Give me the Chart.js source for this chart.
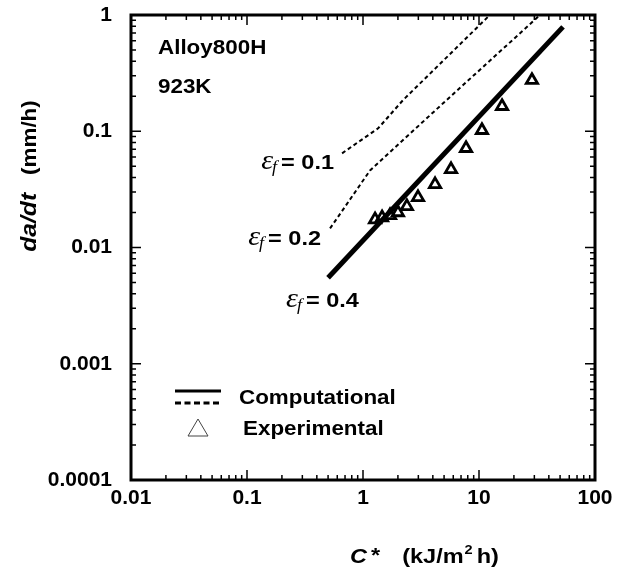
<!DOCTYPE html>
<html><head><meta charset="utf-8">
<script src="https://cdn.jsdelivr.net/npm/chart.js@4/dist/chart.umd.min.js"></script>
<style>html,body{margin:0;padding:0;background:#fff;}</style>
</head><body>
<canvas id="c" width="620" height="570"></canvas>
<script>
// ---- data ----
const xTickValues = [0.01, 0.1, 1, 10, 100];
const xTickLabels = ['0.01', '0.1', '1', '10', '100'];
const yTickValues = [0.0001, 0.001, 0.01, 0.1, 1];
const yTickLabels = ['0.0001', '0.001', '0.01', '0.1', '1'];

const eps01X = [0.66, 1.35, 2.21, 12.4];
const eps01Y = [0.0646, 0.106, 0.185, 1.0];
const eps02X = [0.52, 1.15, 4.9, 33.6];
const eps02Y = [0.0146, 0.046, 0.174, 1.0];
const eps04X = [0.50, 53];
const eps04Y = [0.0055, 0.79];
const expX = [1.27, 1.46, 1.71, 2.00, 2.39, 2.98, 4.18, 5.74, 7.73, 10.6, 15.8, 28.6];
const expY = [0.0174, 0.0181, 0.0189, 0.0200, 0.0226, 0.0270, 0.0349, 0.0470, 0.0714, 0.102, 0.164, 0.275];

const curveLabels = ['0.1', '0.2', '0.4'];
const infoLines = ['Alloy800H', '923K'];
const legendLabels = ['Computational', 'Experimental'];

const pts = (xs, ys) => xs.map((x, i) => ({x: x, y: ys[i]}));
const SANS = '"Liberation Sans", Arial, Helvetica, sans-serif';
const SERIF = '"Liberation Serif", "DejaVu Serif", serif';
const SX = 1.12; // horizontal stretch of the reference lettering

function allTicks(min, max) {
  const out = [];
  for (let e = Math.round(Math.log10(min)); e <= Math.round(Math.log10(max)); e++) {
    for (let m = 1; m <= 9; m++) {
      const v = m * Math.pow(10, e);
      if (v <= max * 1.0001) out.push(+v.toPrecision(3));
    }
  }
  return out;
}

function txt(ctx, s, x, y, font, align, base) {
  ctx.save();
  ctx.font = font;
  ctx.textAlign = align || 'left';
  ctx.textBaseline = base || 'alphabetic';
  ctx.translate(x, y);
  ctx.scale(SX, 1);
  ctx.fillText(s, 0, 0);
  ctx.restore();
}
function tw(ctx, s, font) { ctx.save(); ctx.font = font; const w = ctx.measureText(s).width * SX; ctx.restore(); return w; }

const fE = 'italic 27px ' + SERIF;
const fF = 'italic 16px ' + SERIF;
const fN = 'bold 21px ' + SANS;
function epsLabel(ctx, v, x0, ym) {
  const base = ym + 8;
  let x = x0;
  txt(ctx, '\u03B5', x, base, fE); x += tw(ctx, '\u03B5', fE) - 1;
  txt(ctx, 'f', x, base + 3, fF); x += tw(ctx, 'f', fF) + 4;
  txt(ctx, '= ' + v, x, base, fN);
}
function epsWidth(ctx, v) {
  return tw(ctx, '\u03B5', fE) - 1 + tw(ctx, 'f', fF) + 4 + tw(ctx, '= ' + v, fN);
}

const decor = {
  id: 'decor',
  afterDraw(chart) {
    const ctx = chart.ctx;
    const a = chart.chartArea;
    const xs = chart.scales.x, ys = chart.scales.y;
    ctx.save();
    ctx.fillStyle = '#000';
    ctx.strokeStyle = '#000';
    // inward ticks on all four sides
    ctx.lineWidth = 1.5;
    xs.ticks.forEach(t => {
      const px = xs.getPixelForValue(t.value);
      const major = xTickValues.includes(t.value);
      const L = major ? 10 : 5;
      ctx.beginPath();
      ctx.moveTo(px, a.bottom); ctx.lineTo(px, a.bottom - L);
      ctx.moveTo(px, a.top); ctx.lineTo(px, a.top + L);
      ctx.stroke();
    });
    ys.ticks.forEach(t => {
      const py = ys.getPixelForValue(t.value);
      const major = yTickValues.includes(t.value);
      const L = major ? 10 : 5;
      ctx.beginPath();
      ctx.moveTo(a.left, py); ctx.lineTo(a.left + L, py);
      ctx.moveTo(a.right, py); ctx.lineTo(a.right - L, py);
      ctx.stroke();
    });
    // frame
    ctx.lineWidth = 3;
    ctx.strokeRect(a.left, a.top, a.right - a.left, a.bottom - a.top);

    // info text
    const fB = 'bold 20px ' + SANS;
    txt(ctx, infoLines[0], a.left + 27, a.top + 39, fB);
    txt(ctx, infoLines[1], a.left + 27, a.top + 78, fB);

    // curve labels anchored at the start of each curve
    const starts = [[eps01X[0], eps01Y[0]], [eps02X[0], eps02Y[0]], [eps04X[0], eps04Y[0]]];
    starts.forEach((s, i) => {
      const px = xs.getPixelForValue(s[0]), py = ys.getPixelForValue(s[1]);
      const w = epsWidth(ctx, curveLabels[i]);
      if (i === 0) epsLabel(ctx, curveLabels[i], px - 8 - w, py + 8);
      else if (i === 1) epsLabel(ctx, curveLabels[i], px - 9 - w, py + 9);
      else epsLabel(ctx, curveLabels[i], px - 42, py + 21);
    });

    // legend
    const lx = a.left + 44, ly = a.top + 376;
    const fL = 'bold 20px ' + SANS;
    ctx.lineWidth = 3;
    ctx.beginPath(); ctx.moveTo(lx, ly); ctx.lineTo(lx + 46, ly); ctx.stroke();
    ctx.setLineDash([6, 3.5]);
    ctx.beginPath(); ctx.moveTo(lx, ly + 12); ctx.lineTo(lx + 46, ly + 12); ctx.stroke();
    ctx.setLineDash([]);
    txt(ctx, legendLabels[0], lx + 64, ly + 13, fL);
    // legend triangle
    ctx.lineWidth = 1;
    ctx.strokeStyle = '#444';
    const tx = lx + 23, ty = ly + 37;
    ctx.beginPath();
    ctx.moveTo(tx, ty - 9); ctx.lineTo(tx + 10, ty + 8); ctx.lineTo(tx - 10, ty + 8); ctx.closePath();
    ctx.stroke();
    ctx.strokeStyle = '#000';
    txt(ctx, legendLabels[1], lx + 68, ly + 44, fL);

    // y-axis title (rotated)
    ctx.save();
    ctx.translate(36, a.top + 161);
    ctx.rotate(-Math.PI / 2);
    const f1 = 'italic bold 22px ' + SANS, f2 = 'bold 20px ' + SANS;
    const w1 = tw(ctx, 'da/dt', f1), w2 = tw(ctx, '(mm/h)', f2), gap = 18;
    const tot = w1 + gap + w2;
    txt(ctx, 'da/dt', -tot / 2, 0, f1);
    txt(ctx, '(mm/h)', -tot / 2 + w1 + gap, 0, f2);
    ctx.restore();

    // x-axis title
    const bx = 350, by = 563;
    const fC = 'italic bold 21px ' + SANS, fT = 'bold 21px ' + SANS, fS = 'bold 13px ' + SANS;
    let x = bx;
    txt(ctx, 'C', x, by, fC); x += tw(ctx, 'C', fC) + 4;
    txt(ctx, '*', x, by - 1, fT); x += tw(ctx, '*', fT) + 22;
    txt(ctx, '(kJ/m', x, by, fT); x += tw(ctx, '(kJ/m', fT) + 1;
    txt(ctx, '2', x, by - 9, fS); x += tw(ctx, '2', fS) + 4;
    txt(ctx, 'h)', x, by, fT);
    ctx.restore();
  }
};

const tickFont = {family: SANS, size: 21, weight: 'bold'};

new Chart(document.getElementById('c'), {
  type: 'scatter',
  data: {
    datasets: [
      {label: 'eps 0.1', data: pts(eps01X, eps01Y), showLine: true, borderColor: '#000', borderWidth: 2, borderDash: [4, 3], pointRadius: 0, fill: false},
      {label: 'eps 0.2', data: pts(eps02X, eps02Y), showLine: true, borderColor: '#000', borderWidth: 2, borderDash: [4, 3], pointRadius: 0, fill: false},
      {label: 'eps 0.4', data: pts(eps04X, eps04Y), showLine: true, borderColor: '#000', borderWidth: 5, pointRadius: 0, fill: false},
      {label: 'Experimental', data: pts(expX, expY), showLine: false, pointStyle: 'triangle', pointRadius: 6.5, borderWidth: 2.8, borderColor: '#000', backgroundColor: 'rgba(0,0,0,0)'}
    ]
  },
  options: {
    responsive: false,
    devicePixelRatio: 1,
    animation: false,
    layout: {padding: {top: 15, right: 25, left: 0, bottom: 0}},
    plugins: {legend: {display: false}, tooltip: {enabled: false}},
    scales: {
      x: {
        type: 'logarithmic', min: xTickValues[0], max: xTickValues[xTickValues.length - 1],
        afterBuildTicks: s => { s.ticks = allTicks(s.min, s.max).map(v => ({value: v})); },
        afterFit: s => { s.height = 90; s.paddingLeft = 0; s.paddingRight = 0; },
        grid: {display: false, drawTicks: false},
        border: {display: false},
        ticks: {
          autoSkip: false, maxRotation: 0, color: '#000', font: tickFont, padding: 6,
          callback: v => { const i = xTickValues.indexOf(+(+v).toPrecision(3)); return i >= 0 ? xTickLabels[i] : ''; }
        }
      },
      y: {
        type: 'logarithmic', min: yTickValues[0], max: yTickValues[yTickValues.length - 1],
        afterBuildTicks: s => { s.ticks = allTicks(s.min, s.max).map(v => ({value: v})); },
        afterFit: s => { s.width = 131; s.paddingTop = 0; s.paddingBottom = 0; },
        grid: {display: false, drawTicks: false},
        border: {display: false},
        ticks: {
          autoSkip: false, color: '#000', font: tickFont, padding: 19,
          callback: v => { const i = yTickValues.indexOf(+(+v).toPrecision(3)); return i >= 0 ? yTickLabels[i] : ''; }
        }
      }
    }
  },
  plugins: [decor]
});
</script>
</body></html>
